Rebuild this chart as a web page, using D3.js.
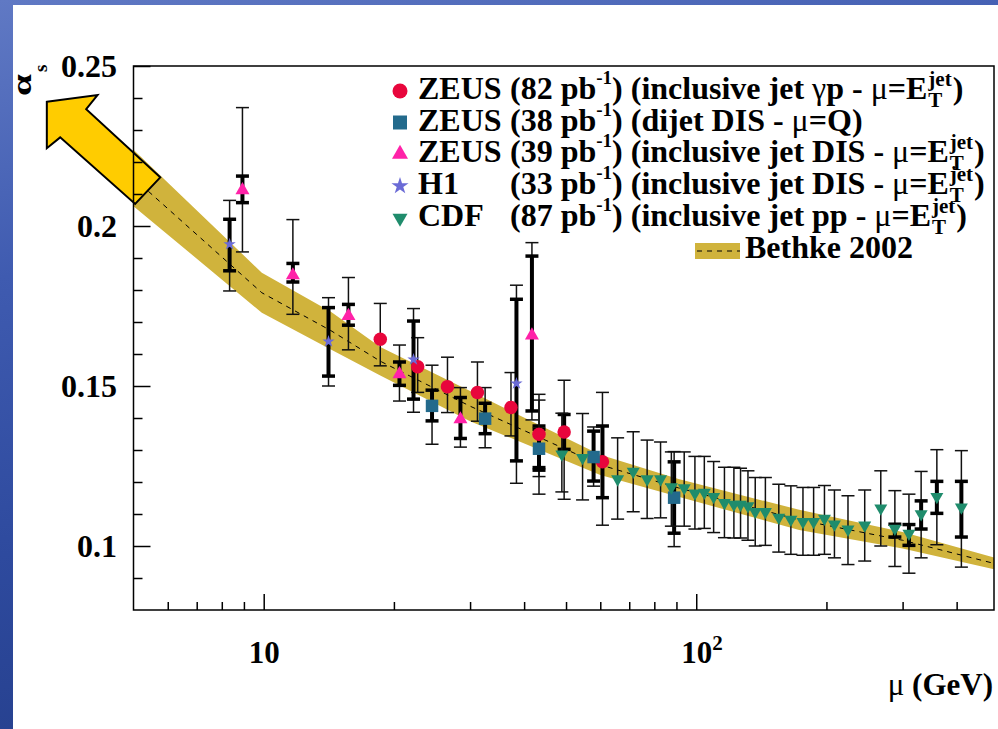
<!DOCTYPE html>
<html>
<head>
<meta charset="utf-8">
<script src="https://cdn.jsdelivr.net/npm/d3@7"></script>
<style>
html, body { margin: 0; padding: 0; overflow: hidden; background: #fff; }
svg { display: block; }
text { font-family: "Liberation Serif", "Times New Roman", serif; font-weight: bold; fill: #000; }
</style>
</head>
<body>
<svg id="alphasPlot" width="998" height="729"></svg>
<script>
//// data

// ZEUS 82 pb-1, inclusive jet photoproduction (circles)
var zeusGpMu     = [18.6, 22.7, 26.6, 31.2, 37.3, 43.3, 49.5, 60.7];
var zeusGpAlpha  = [0.1646, 0.1560, 0.1498, 0.1480, 0.1433, 0.1349, 0.1356, 0.1263];
var zeusGpTotUp  = [0.1758, 0.1651, 0.1590, 0.1575, 0.1542, 0.1474, 0.1518, 0.1480];
var zeusGpTotDn  = [0.1563, 0.1480, 0.1417, 0.1390, 0.1344, 0.1162, 0.1146, 0.1065];
var zeusGpStatUp = [null, null, null, null, null, 0.1375, 0.1411, 0.1375];
var zeusGpStatDn = [null, null, null, null, null, 0.1245, 0.1302, 0.1151];

// ZEUS 38 pb-1, dijet DIS, mu = Q (squares)
var zeusDijMu     = [24.5, 32.5, 43.3, 57.9, 88.9];
var zeusDijAlpha  = [0.1438, 0.1398, 0.1304, 0.1278, 0.1151];
var zeusDijStatUp = [0.1487, 0.1446, 0.1365, 0.1359, 0.1263];
var zeusDijStatDn = [0.1391, 0.1351, 0.1237, 0.1203, 0.1040];
var zeusDijTotUp  = [0.1565, 0.1495, 0.1456, 0.1372, 0.1295];
var zeusDijTotDn  = [0.1318, 0.1307, 0.1217, 0.1187, 0.0998];

// ZEUS 39 pb-1, inclusive jet DIS (triangles)
var zeusDisMu     = [8.93, 11.68, 15.7, 20.6, 28.5, 41.7];
var zeusDisAlpha  = [0.2112, 0.1846, 0.1719, 0.1537, 0.1396, 0.1658];
var zeusDisStatUp = [0.2156, 0.1883, 0.1755, 0.1575, 0.1464, 0.1906];
var zeusDisStatDn = [0.2073, 0.1825, 0.1690, 0.1502, 0.1336, 0.1422];
var zeusDisTotUp  = [0.2370, 0.2020, 0.1839, 0.1628, 0.1495, 0.1948];
var zeusDisTotDn  = [0.1919, 0.1724, 0.1613, 0.1453, 0.1309, 0.1394];

// H1 33 pb-1, inclusive jet DIS (stars)
var h1Mu     = [8.34, 14.12, 22.2, 38.4];
var h1Alpha  = [0.1943, 0.1639, 0.1583, 0.1508];
var h1StatUp = [0.2021, 0.1745, 0.1703, 0.1771];
var h1StatDn = [0.1860, 0.1531, 0.1459, 0.1266];
var h1TotUp  = [0.2080, 0.1776, 0.1742, 0.1815];
var h1TotDn  = [0.1797, 0.1500, 0.1418, 0.1196];

// CDF 87 pb-1, inclusive jet pp (down triangles)
var cdfMu    = [48.9, 54.6, 65.8, 71.5, 77.0, 82.7, 87.6, 93.8, 99.3, 104.4, 109.7, 116.2, 122.2, 126.6, 131.7,
                136.9, 144.5, 155.2, 165.5, 176.5, 186.8, 197.9, 208.7, 224.3, 245.2, 267.1, 287.9, 310.3, 331.1, 360.0, 410.2];
var cdfAlpha = [0.1287, 0.1276, 0.1209, 0.1233, 0.1209, 0.1209, 0.1184, 0.1181, 0.1165, 0.1167, 0.1154, 0.1135, 0.1130, 0.1130, 0.1125,
                0.1107, 0.1107, 0.1089, 0.1083, 0.1076, 0.1076, 0.1086, 0.1068, 0.1052, 0.1065, 0.1118, 0.1055, 0.1039, 0.1100, 0.1154, 0.1121];
var cdfTotUp = [0.1415, 0.1414, 0.1338, 0.1357, 0.1331, 0.1325, 0.1294, 0.1294, 0.1280, 0.1280, 0.1264, 0.1246, 0.1246, 0.1243, 0.1235,
                0.1214, 0.1214, 0.1193, 0.1188, 0.1183, 0.1183, 0.1189, 0.1175, 0.1157, 0.1175, 0.1235, 0.1173, 0.1162, 0.1233, 0.1301, 0.1298];
var cdfTotDn = [0.1169, 0.1144, 0.1084, 0.1107, 0.1086, 0.1088, 0.1062, 0.1062, 0.1053, 0.1055, 0.1042, 0.1026, 0.1025, 0.1025, 0.1018,
                0.1000, 0.1002, 0.0981, 0.0974, 0.0971, 0.0971, 0.0974, 0.0963, 0.0942, 0.0953, 0.1000, 0.0936, 0.0915, 0.0963, 0.1004, 0.0934];
var cdfStatUp = [null, null, null, null, null, null, null, null, null, null, null, null, null, null, null,
                 null, null, null, null, null, null, null, null, null, null, null, 0.1068, 0.1067, 0.1141, 0.1202, 0.1202];
var cdfStatDn = [null, null, null, null, null, null, null, null, null, null, null, null, null, null, null,
                 null, null, null, null, null, null, null, null, null, null, null, 0.1028, 0.1002, 0.1053, 0.1102, 0.1028];

// Bethke 2002 world average band
var bethkeMu = [5, 9.9, 14.3, 18.6, 30, 60, 91, 173, 300, 500];
var bethkeHi = [0.2238, 0.1854, 0.1732, 0.1622, 0.1484, 0.1285, 0.1209, 0.1113, 0.1044, 0.0960];
var bethkeLo = [0.2062, 0.1729, 0.1614, 0.1533, 0.1390, 0.1222, 0.1154, 0.1050, 0.0992, 0.0924];

// axes
var xMajorTicks = [10, 100];
var xMinorTicks = [6, 7, 8, 9, 20, 30, 40, 50, 60, 70, 80, 90, 200, 300, 400];
var yMajorTicks = [0.1, 0.15, 0.2, 0.25];
var yMajorLabels = ["0.1", "0.15", "0.2", "0.25"];
var yMinorTicks = [0.09, 0.11, 0.12, 0.13, 0.14, 0.16, 0.17, 0.18, 0.19, 0.21, 0.22, 0.23, 0.24];

// arrow annotation vertices (mu, alpha)
var arrowMu    = [3.152, 4.128, 3.887, 5.765, 5.045, 3.384, 3.152];
var arrowAlpha = [0.2388, 0.2409, 0.2365, 0.2152, 0.2069, 0.2277, 0.2243];

//// set up
var svg = d3.select("svg#alphasPlot");
var width = +svg.attr("width"),
    height = +svg.attr("height");

var frameL = 133.5, frameR = 994, frameT = 66, frameB = 610;

var x = d3.scaleLog().domain([5, 488]).range([frameL, frameR]);
var y = d3.scaleLinear().domain([0.08, 0.25]).range([frameB, frameT]);

// slide background
var defs = svg.append("defs");
var grad = defs.append("linearGradient").attr("id", "slideBg")
    .attr("x1", 0).attr("y1", 0).attr("x2", 0.3).attr("y2", 1);
grad.append("stop").attr("offset", 0).attr("stop-color", "#6079c4");
grad.append("stop").attr("offset", 0.35).attr("stop-color", "#3f5bb0");
grad.append("stop").attr("offset", 0.7).attr("stop-color", "#2e4a9e");
grad.append("stop").attr("offset", 1).attr("stop-color", "#253f8c");
svg.append("rect").attr("width", width).attr("height", height).attr("fill", "url(#slideBg)");
svg.append("rect").attr("x", 13).attr("y", 5).attr("width", width - 13).attr("height", height - 5).attr("fill", "#fff");

defs.append("clipPath").attr("id", "plotClip")
  .append("rect").attr("x", frameL).attr("y", frameT).attr("width", frameR - frameL).attr("height", frameB - frameT);

// band
var bandColor = "#d0b33c";
var band = bethkeMu.map(function(m, i) { return {mu: m, lo: bethkeLo[i], hi: bethkeHi[i]}; });

svg.append("path")
   .datum(band)
   .attr("clip-path", "url(#plotClip)")
   .attr("fill", bandColor)
   .attr("d", d3.area()
       .x(function(d) { return x(d.mu); })
       .y0(function(d) { return y(d.lo); })
       .y1(function(d) { return y(d.hi); }));

svg.append("path")
   .datum(band)
   .attr("clip-path", "url(#plotClip)")
   .attr("fill", "none")
   .attr("stroke", "#000")
   .attr("stroke-width", 1)
   .attr("stroke-dasharray", "5,5")
   .attr("d", d3.line()
       .x(function(d) { return x(d.mu); })
       .y(function(d) { return y((d.lo + d.hi) / 2); }));

// arrow
svg.append("path")
   .datum(arrowMu.map(function(m, i) { return [x(m), y(arrowAlpha[i])]; }))
   .attr("fill", "#ffcc00")
   .attr("stroke", "#000")
   .attr("stroke-width", 2)
   .attr("stroke-linejoin", "miter")
   .attr("d", function(d) { return "M" + d.join("L") + "Z"; });

// frame + ticks
svg.append("rect")
   .attr("x", frameL).attr("y", frameT)
   .attr("width", frameR - frameL).attr("height", frameB - frameT)
   .attr("fill", "none").attr("stroke", "#000").attr("stroke-width", 1.5);

function styleAxis(g) {
  g.select(".domain").remove();
  g.selectAll(".tick line").attr("stroke", "#000").attr("stroke-width", 1.5);
  g.selectAll(".tick text").attr("fill", "#000");
}

svg.append("g")
   .attr("transform", "translate(0," + frameB + ")")
   .call(d3.axisBottom(x).tickValues(xMinorTicks).tickSize(-8).tickFormat(""))
   .call(styleAxis);

var xMaj = svg.append("g")
   .attr("transform", "translate(0," + frameB + ")")
   .call(d3.axisBottom(x).tickValues(xMajorTicks).tickSize(-16).tickPadding(31)
         .tickFormat(function() { return "10"; }))
   .call(styleAxis);
xMaj.selectAll(".tick text")
    .attr("font-family", "Liberation Serif, serif")
    .attr("font-weight", "bold")
    .attr("font-size", 31);
xMaj.selectAll(".tick text")
    .filter(function(d) { return d === 100; })
    .attr("text-anchor", "start")
    .attr("x", -15.5)
    .append("tspan").attr("dy", "-0.62em").attr("font-size", 21).text("2");

svg.append("g")
   .attr("transform", "translate(" + frameL + ",0)")
   .call(d3.axisLeft(y).tickValues(yMinorTicks).tickSize(-9).tickFormat(""))
   .call(styleAxis);

svg.append("g")
   .attr("transform", "translate(" + frameL + ",0)")
   .call(d3.axisLeft(y).tickValues(yMajorTicks).tickSize(-17).tickPadding(16.5)
         .tickFormat(function(d, i) { return yMajorLabels[i]; }))
   .call(styleAxis)
   .selectAll(".tick text")
   .attr("font-family", "Liberation Serif, serif")
   .attr("font-weight", "bold")
   .attr("font-size", 32);

// axis titles
var yt = svg.append("g").attr("transform", "translate(31,96) rotate(-90)");
yt.append("text")
  .attr("transform", "scale(1.4,1)")
  .attr("font-weight", "normal")
  .attr("font-size", 28)
  .text("α");
yt.append("text")
  .attr("x", 24).attr("y", 16)
  .attr("font-weight", "normal")
  .attr("font-size", 19)
  .text("s");

var xt = svg.append("text")
   .attr("x", 993).attr("y", 695)
   .attr("text-anchor", "end")
   .attr("font-size", 31);
xt.append("tspan").attr("font-weight", "normal").text("μ");
xt.append("tspan").text(" (GeV)");

//// data points
var red = "#e8063c", blue = "#236a8c", pink = "#ff22a8", violet = "#6b6bd6", green = "#1f8c6c";

function makePoints(mu, al, sUp, sDn, tUp, tDn) {
  return mu.map(function(m, i) {
    return {mu: m, a: al[i], sUp: sUp[i], sDn: sDn[i], tUp: tUp[i], tDn: tDn[i]};
  });
}

var seriesList = [
  {pts: makePoints(zeusGpMu, zeusGpAlpha, zeusGpStatUp, zeusGpStatDn, zeusGpTotUp, zeusGpTotDn), shape: "circle", color: red},
  {pts: makePoints(zeusDijMu, zeusDijAlpha, zeusDijStatUp, zeusDijStatDn, zeusDijTotUp, zeusDijTotDn), shape: "square", color: blue},
  {pts: makePoints(zeusDisMu, zeusDisAlpha, zeusDisStatUp, zeusDisStatDn, zeusDisTotUp, zeusDisTotDn), shape: "up", color: pink},
  {pts: makePoints(h1Mu, h1Alpha, h1StatUp, h1StatDn, h1TotUp, h1TotDn), shape: "star", color: violet},
  {pts: makePoints(cdfMu, cdfAlpha, cdfStatUp, cdfStatDn, cdfTotUp, cdfTotDn), shape: "down", color: green}
];

var capW = 6.5;
var errG = svg.append("g");
seriesList.forEach(function(s) {
  s.pts.forEach(function(p) {
    var px = x(p.mu);
    errG.append("line").attr("x1", px).attr("x2", px).attr("y1", y(p.tUp)).attr("y2", y(p.tDn))
        .attr("stroke", "#111").attr("stroke-width", 1.5);
    [p.tUp, p.tDn].forEach(function(v) {
      errG.append("line").attr("x1", px - capW).attr("x2", px + capW).attr("y1", y(v)).attr("y2", y(v))
          .attr("stroke", "#111").attr("stroke-width", 1.5);
    });
    if (p.sUp != null) {
      errG.append("line").attr("x1", px).attr("x2", px).attr("y1", y(p.sUp)).attr("y2", y(p.sDn))
          .attr("stroke", "#000").attr("stroke-width", 4);
      [p.sUp, p.sDn].forEach(function(v) {
        errG.append("line").attr("x1", px - capW).attr("x2", px + capW).attr("y1", y(v)).attr("y2", y(v))
            .attr("stroke", "#000").attr("stroke-width", 3.5);
      });
    }
  });
});

function markerPath(shape, s) {
  // s = nominal width
  var h, r;
  if (shape === "square") return d3.symbol(d3.symbolSquare, s * s)();
  if (shape === "star") { r = s / 2; return d3.symbol(d3.symbolStar, r * r / 0.8908130915292852)(); }
  h = s * 0.87;
  if (shape === "up") return "M0," + (-h * 2 / 3) + "L" + (s / 2) + "," + (h / 3) + "L" + (-s / 2) + "," + (h / 3) + "Z";
  if (shape === "down") return "M0," + (h * 2 / 3) + "L" + (s / 2) + "," + (-h / 3) + "L" + (-s / 2) + "," + (-h / 3) + "Z";
  return d3.symbol(d3.symbolCircle, Math.PI * s * s / 4)();
}

var plotSize = {circle: 13.5, square: 12.5, up: 14, star: 13, down: 13};
var markG = svg.append("g");
seriesList.forEach(function(s) {
  markG.selectAll(null)
       .data(s.pts)
       .enter().append("path")
       .attr("transform", function(d) { return "translate(" + x(d.mu) + "," + y(d.a) + ")"; })
       .attr("d", markerPath(s.shape, plotSize[s.shape]))
       .attr("fill", s.color);
});

//// legend
var legX = 400, nameX = 418, restX = 510, fs = 32;
var legBase = [99, 130.5, 162, 194, 226];
var legName = ["ZEUS", "ZEUS", "ZEUS", "H1", "CDF"];
var legLumi = ["82", "38", "39", "33", "87"];
var legBody = [
  [["inclusive jet ", 0], ["γ", 1], ["p - ", 0], ["μ", 1], ["=E", 0]],
  [["dijet DIS - ", 0], ["μ", 1], ["=Q)", 0]],
  [["inclusive jet DIS - ", 0], ["μ", 1], ["=E", 0]],
  [["inclusive jet DIS - ", 0], ["μ", 1], ["=E", 0]],
  [["inclusive jet pp - ", 0], ["μ", 1], ["=E", 0]]
];
var legEt = [true, false, true, true, true];
var legSize = {circle: 15, square: 14, up: 16, star: 18, down: 15};

var leg = svg.append("g").attr("font-size", fs);
seriesList.forEach(function(s, i) {
  var yb = legBase[i];
  leg.append("path")
     .attr("transform", "translate(" + legX + "," + (yb - 8) + ")")
     .attr("d", markerPath(s.shape, legSize[s.shape]))
     .attr("fill", s.color);
  leg.append("text").attr("x", nameX).attr("y", yb).text(legName[i]);
  var t = leg.append("text").attr("x", restX).attr("y", yb);
  t.append("tspan").text("(" + legLumi[i] + " pb");
  t.append("tspan").attr("dy", -15).attr("font-size", 19).text("-1");
  t.append("tspan").attr("dy", 15).text(") (");
  legBody[i].forEach(function(part) {
    var sp = t.append("tspan").text(part[0]);
    if (part[1]) sp.attr("font-weight", "normal");
  });
  if (legEt[i]) {
    var ex = restX + t.node().getComputedTextLength() + 1;
    var sup = leg.append("text").attr("x", ex).attr("y", yb - 13).attr("font-size", 21).text("jet");
    var sub = leg.append("text").attr("x", ex).attr("y", yb + 8).attr("font-size", 21).text("T");
    var w = Math.max(sup.node().getComputedTextLength(), sub.node().getComputedTextLength());
    leg.append("text").attr("x", ex + w + 1).attr("y", yb).text(")");
  }
});

// Bethke legend entry
leg.append("rect").attr("x", 695).attr("y", 243).attr("width", 45).attr("height", 16).attr("fill", bandColor);
leg.append("line").attr("x1", 697).attr("x2", 740).attr("y1", 251).attr("y2", 251)
   .attr("stroke", "#000").attr("stroke-width", 1).attr("stroke-dasharray", "5,5");
leg.append("text").attr("x", 745).attr("y", 258).text("Bethke 2002");
</script>
</body>
</html>
